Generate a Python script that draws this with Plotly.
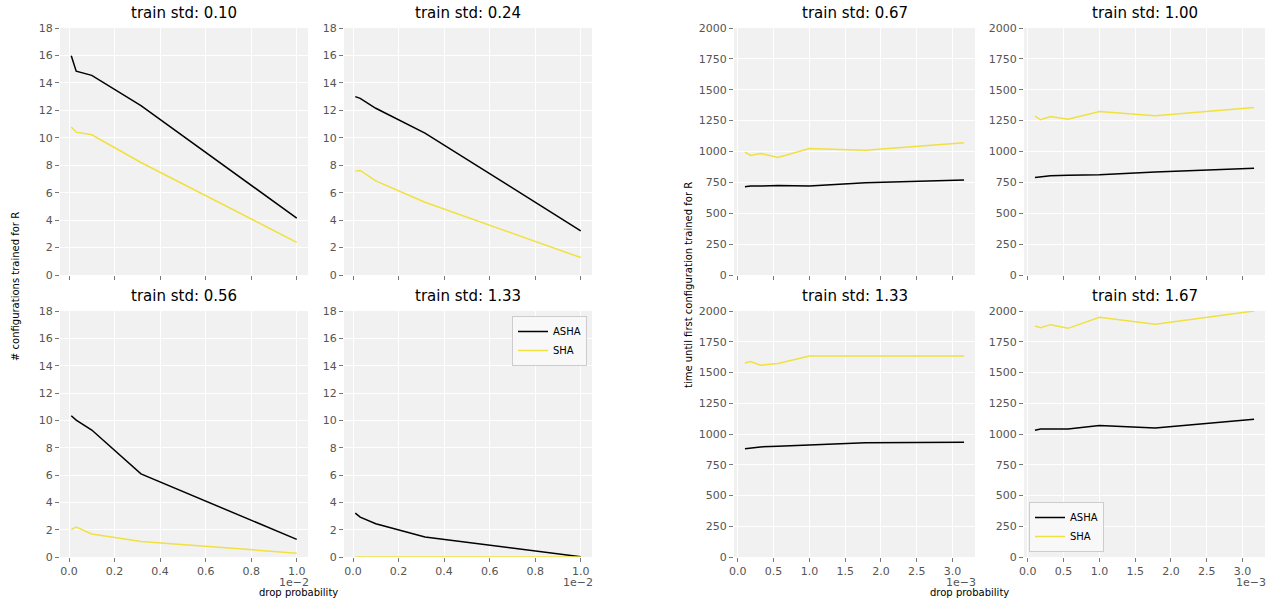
import plotly.graph_objects as go
from plotly.subplots import make_subplots

# ---- data ----
# left group: drop probability (x 1e-2)
drop_left = [0.01, 0.0316, 0.1, 0.316, 1.0]
# right group: drop probability (x 1e-3)
drop_right = [0.1, 0.178, 0.316, 0.562, 1.0, 1.78, 3.16]

left_titles = ["train std: 0.10", "train std: 0.24", "train std: 0.56", "train std: 1.33"]
asha_left = [
    [15.98, 14.85, 14.55, 12.35, 4.14],
    [13.0, 12.87, 12.15, 10.34, 3.22],
    [10.34, 10.02, 9.29, 6.08, 1.29],
    [3.21, 2.92, 2.43, 1.46, 0.02],
]
sha_left = [
    [10.78, 10.41, 10.22, 8.2, 2.38],
    [7.57, 7.62, 6.86, 5.3, 1.27],
    [2.0, 2.19, 1.68, 1.14, 0.28],
    [0.0, 0.0, 0.0, 0.0, 0.0],
]

right_titles = ["train std: 0.67", "train std: 1.00", "train std: 1.33", "train std: 1.67"]
asha_right = [
    [714, 720, 720, 724, 720, 746, 770],
    [789, 795, 803, 808, 812, 834, 865],
    [881, 886, 895, 900, 911, 928, 933],
    [1030, 1041, 1041, 1041, 1070, 1049, 1119],
]
sha_right = [
    [995, 968, 984, 951, 1024, 1011, 1070],
    [1286, 1257, 1284, 1262, 1324, 1289, 1357],
    [1578, 1589, 1559, 1573, 1635, 1635, 1635],
    [1878, 1865, 1889, 1859, 1949, 1892, 2000],
]

yticks_left = [0, 2, 4, 6, 8, 10, 12, 14, 16, 18]
yticks_right = [0, 250, 500, 750, 1000, 1250, 1500, 1750, 2000]
xticks_left = [0.0, 0.2, 0.4, 0.6, 0.8, 1.0]
xticks_right = [0.0, 0.5, 1.0, 1.5, 2.0, 2.5, 3.0]

BLACK = "#000000"
YELLOW = "#f0e040"
W, H = 1267, 598

fig = make_subplots(rows=2, cols=4)

# panel layout in pixels (left, right, top, bottom)
col_px = [(60, 308), (344, 592), (734, 975), (1024, 1265)]
row_px = [(28, 275), (311, 557)]

# panel order: (row, col, group, index)
panels = [
    (1, 1, "L", 0), (1, 2, "L", 1), (2, 1, "L", 2), (2, 2, "L", 3),
    (1, 3, "R", 0), (1, 4, "R", 1), (2, 3, "R", 2), (2, 4, "R", 3),
]

annotations = []
for (r, c, g, i) in panels:
    if g == "L":
        x = drop_left
        a, s = asha_left[i], sha_left[i]
        title = left_titles[i]
    else:
        x = drop_right
        a, s = asha_right[i], sha_right[i]
        title = right_titles[i]
    leg_left = (g == "L" and i == 3)
    leg_right = (g == "R" and i == 3)
    show = leg_left or leg_right
    lg = "legend" if leg_left else ("legend2" if leg_right else None)
    kw = dict(legend=lg) if lg else {}
    fig.add_trace(go.Scatter(x=x, y=a, mode="lines", name="ASHA",
                             line=dict(color=BLACK, width=1.5),
                             showlegend=show, **kw), row=r, col=c)
    fig.add_trace(go.Scatter(x=x, y=s, mode="lines", name="SHA",
                             line=dict(color=YELLOW, width=1.5),
                             showlegend=show, **kw), row=r, col=c)

    x0, x1 = col_px[c - 1]
    y0, y1 = row_px[r - 1]
    dom_x = [x0 / W, x1 / W]
    dom_y = [1 - y1 / H, 1 - y0 / H]
    if g == "L":
        xr = [-0.0395, 1.0495]
        xt = xticks_left
        yr = [0, 18]
        yt = yticks_left
        off = "1e\u22122"
    else:
        xr = [-0.053, 3.313]
        xt = xticks_right
        yr = [0, 2000]
        yt = yticks_right
        off = "1e\u22123"
    common = dict(showgrid=True, gridcolor="white", gridwidth=1,
                  zeroline=False, showline=False, automargin=False,
                  ticks="outside", ticklen=4, tickcolor="#777777", tickwidth=1,
                  tickfont=dict(family="DejaVu Sans", size=11, color="#555555"))
    fig.update_xaxes(domain=dom_x, range=xr, tickvals=xt, tickformat=".1f",
                     showticklabels=(r == 2), row=r, col=c, **common)
    fig.update_yaxes(domain=dom_y, range=yr, tickvals=yt, row=r, col=c, **common)

    annotations.append(dict(text=title, x=(x0 + x1) / 2 / W, y=1 - (y0 - 4) / H,
                            xref="paper", yref="paper", xanchor="center", yanchor="bottom",
                            showarrow=False,
                            font=dict(family="DejaVu Sans", size=15, color="#000000")))
    if r == 2:
        annotations.append(dict(text=off, x=(x1 + 2) / W, y=1 - 575 / H,
                                xref="paper", yref="paper", xanchor="right", yanchor="top",
                                showarrow=False, borderpad=0,
                                font=dict(family="DejaVu Sans", size=11, color="#555555")))

# axis labels
annotations.append(dict(text="drop probability", x=298 / W, y=1 - 586 / H,
                        xref="paper", yref="paper", xanchor="center", yanchor="top",
                        showarrow=False, borderpad=0,
                        font=dict(family="DejaVu Sans", size=10, color="#000000")))
annotations.append(dict(text="drop probability", x=970 / W, y=1 - 586 / H,
                        xref="paper", yref="paper", xanchor="center", yanchor="top",
                        showarrow=False, borderpad=0,
                        font=dict(family="DejaVu Sans", size=10, color="#000000")))
annotations.append(dict(text="# configurations trained for R", x=15 / W, y=1 - 287 / H,
                        xref="paper", yref="paper", xanchor="center", yanchor="middle",
                        textangle=-90, showarrow=False,
                        font=dict(family="DejaVu Sans", size=10, color="#000000")))
annotations.append(dict(text="time until first configuration trained for R", x=688 / W, y=1 - 285 / H,
                        xref="paper", yref="paper", xanchor="center", yanchor="middle",
                        textangle=-90, showarrow=False,
                        font=dict(family="DejaVu Sans", size=10, color="#000000")))

fig.update_layout(
    width=W, height=H,
    margin=dict(l=0, r=0, t=0, b=0, pad=0, autoexpand=False),
    paper_bgcolor="white",
    plot_bgcolor="#f1f1f1",
    annotations=annotations,
    legend=dict(x=587 / W, y=1 - 316 / H, xanchor="right", yanchor="top",
                bgcolor="rgba(248,248,248,0.9)", bordercolor="#cccccc", borderwidth=1,
                font=dict(family="DejaVu Sans", size=10, color="#000000"),
                itemwidth=30, tracegroupgap=0),
    legend2=dict(x=1029 / W, y=1 - 552 / H, xanchor="left", yanchor="bottom",
                 bgcolor="rgba(248,248,248,0.9)", bordercolor="#cccccc", borderwidth=1,
                 font=dict(family="DejaVu Sans", size=10, color="#000000"),
                 itemwidth=30, tracegroupgap=0),
)

post = (
    "document.documentElement.style.margin='0';"
    "document.documentElement.style.padding='0';"
    "document.documentElement.style.overflow='hidden';"
    "document.body.style.margin='0';"
    "document.body.style.padding='0';"
    "document.body.style.overflow='hidden';"
)

fig.write_html("out.html", config={"displayModeBar": False}, post_script=post)
